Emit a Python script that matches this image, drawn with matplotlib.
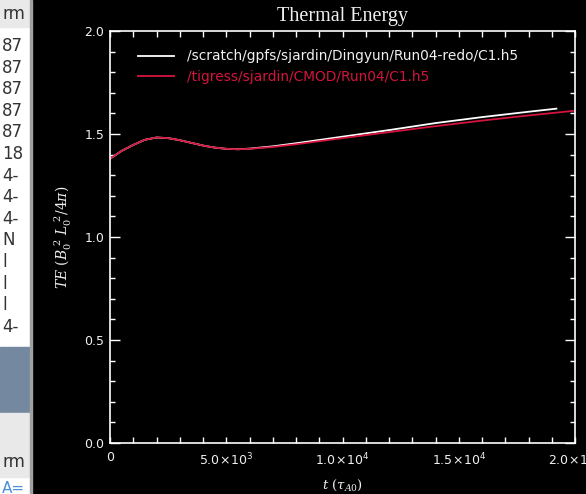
import matplotlib
matplotlib.use('Agg')
import matplotlib.pyplot as plt
from matplotlib.patches import Rectangle

# datos
t_redo = [0, 500, 1000, 1500, 2000, 2500, 3000, 3500, 4000, 4500, 5000, 5500, 6000,
          7000, 8000, 9000, 10000, 12000, 14000, 16000, 18000, 19200]
te_redo = [1.38, 1.418, 1.447, 1.472, 1.483, 1.480, 1.470, 1.457, 1.444, 1.434, 1.428, 1.426, 1.429,
           1.440, 1.455, 1.471, 1.487, 1.519, 1.553, 1.582, 1.608, 1.623]

t_cmod = [0, 500, 1000, 1500, 2000, 2500, 3000, 3500, 4000, 4500, 5000, 5500, 6000,
          7000, 8000, 9000, 10000, 12000, 14000, 16000, 18000, 20000]
te_cmod = [1.38, 1.418, 1.447, 1.472, 1.483, 1.480, 1.470, 1.457, 1.444, 1.434, 1.428, 1.426, 1.428,
           1.437, 1.450, 1.465, 1.480, 1.509, 1.538, 1.565, 1.590, 1.613]

label_redo = '/scratch/gpfs/sjardin/Dingyun/Run04-redo/C1.h5'
label_cmod = '/tigress/sjardin/CMOD/Run04/C1.h5'

x_ticks = [0, 5000, 10000, 15000, 20000]
x_ticklabels = ['0', r'$5.0\!\times\!10^3$', r'$1.0\!\times\!10^4$', r'$1.5\!\times\!10^4$', r'$2.0\!\times\!10^4$']
y_ticks = [0.0, 0.5, 1.0, 1.5, 2.0]
y_ticklabels = ['0.0', '0.5', '1.0', '1.5', '2.0']

# columna de la ventana de al lado (captura de pantalla)
side_rows = ['87', '87', '87', '87', '87', '18', '4-', '4-', '4-', 'N', 'l', 'l', 'l', '4-']

rojo = '#d4143c'
blanco = '#f0f0f0'
W, H = 586, 494

plt.rcParams['mathtext.fontset'] = 'dejavusans'
fig = plt.figure(figsize=(W / 100, H / 100), dpi=100, facecolor='black')

# franja izquierda
fig.patches.append(Rectangle((0, 0), 31 / W, 1, transform=fig.transFigure, color='white', zorder=0))
fig.patches.append(Rectangle((0, 1 - 27 / H), 31 / W, 27 / H, transform=fig.transFigure, color='#e9e9e9', zorder=1))
fig.patches.append(Rectangle((0, 1 - 413 / H), 31 / W, 66 / H, transform=fig.transFigure, color='#7489a0', zorder=1))
fig.patches.append(Rectangle((0, 1 - 477 / H), 31 / W, 64 / H, transform=fig.transFigure, color='#e9e9e9', zorder=1))
fig.patches.append(Rectangle((30 / W, 0), 2 / W, 1, transform=fig.transFigure, color='#a0a0a0', zorder=2))
fig.text(2 / W, 1 - 14 / H, 'rm', color='#333333', fontsize=12, va='center', ha='left')
for i, s in enumerate(side_rows):
    fig.text(2 / W, 1 - (46 + i * 21.6) / H, s, color='#333333', fontsize=12, va='center', ha='left')
fig.text(2 / W, 1 - 462 / H, 'rm', color='#333333', fontsize=12, va='center', ha='left')
fig.text(2 / W, 1 - 488 / H, 'A=', color='#4a90d9', fontsize=11, va='center', ha='left')

ax = fig.add_axes([110 / W, 51 / H, 465 / W, 412 / H])
ax.set_facecolor('black')

ax.plot(t_redo, te_redo, color='white', lw=1.3, label=label_redo)
ax.plot(t_cmod, te_cmod, color=rojo, lw=1.3, label=label_cmod)

ax.set_xlim(0, 20000)
ax.set_ylim(0, 2.0)
ax.set_xticks(x_ticks)
ax.set_xticklabels(x_ticklabels)
ax.set_yticks(y_ticks)
ax.set_yticklabels(y_ticklabels)
ax.set_xticks(range(0, 20001, 1000), minor=True)
ax.set_yticks([i / 10 for i in range(21)], minor=True)

for s in ax.spines.values():
    s.set_color('white')
    s.set_linewidth(1.2)
ax.tick_params(which='both', direction='in', colors='white', labelcolor=blanco, top=True, right=True, width=1.0)
ax.tick_params(axis='x', which='major', length=4, pad=6, labelsize=9)
ax.tick_params(axis='x', which='minor', length=4)
ax.tick_params(axis='y', which='major', length=7.5, pad=4, labelsize=9)
ax.tick_params(axis='y', which='minor', length=3.8)

ax.text(0.5, 1.036, 'Thermal Energy', transform=ax.transAxes, ha='center', va='center',
        color=blanco, fontsize=14.5, family='Liberation Serif')
ax.set_xlabel(r'$t\ (\tau_{A0})$', color=blanco, fontsize=9.5, math_fontfamily='dejavuserif')
ax.xaxis.set_label_coords(0.5, -0.085)
ax.set_ylabel(r'$TE\ (B_0^{\ 2}\ L_0^{\ 2}/4\pi)$', color=blanco, fontsize=10, math_fontfamily='dejavuserif')
ax.yaxis.set_label_coords(-0.078, 0.5)

ax.legend(loc='upper left', bbox_to_anchor=(0.045, 0.972), frameon=False, fontsize=9.9,
          handlelength=2.6, handletextpad=1.0, labelspacing=0.5, borderpad=0,
          labelcolor=[blanco, rojo])

fig.savefig('out.png', dpi=100, facecolor='black')
